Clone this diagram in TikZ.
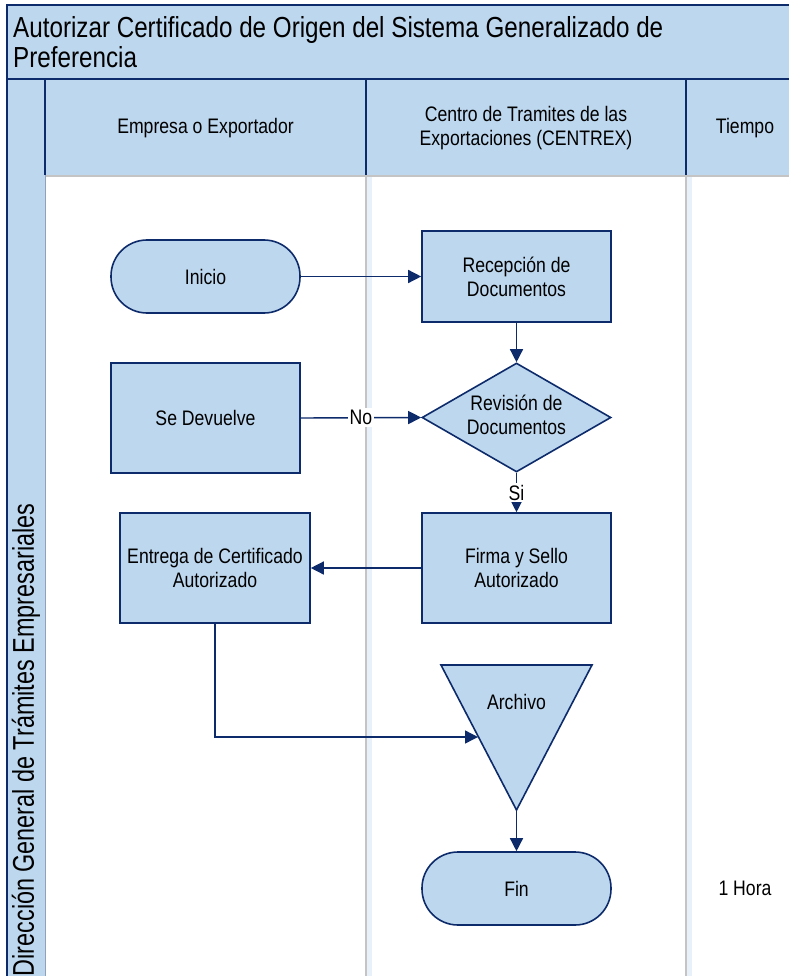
\documentclass[tikz,border=0pt]{standalone}
\usepackage{fontspec}
\setmainfont[FakeStretch=0.84]{Liberation Sans}
\newfontfamily\titlefont[FakeStretch=0.835]{Liberation Sans}
\newfontfamily\lanefont[FakeStretch=0.78]{Liberation Sans}
\usetikzlibrary{arrows.meta,shapes.geometric}
\definecolor{boxfill}{HTML}{BDD7EE}
\definecolor{navy}{HTML}{0D2B6A}
\definecolor{lanegray}{HTML}{C4C4C4}
\definecolor{laneshade}{HTML}{E8F0FA}

\begin{document}
\begin{tikzpicture}[x=1pt,y=-1pt,
  txt/.style={font=\fontsize{21}{24}\selectfont, align=center, text=black},
  procbox/.style={txt, draw=navy, line width=1.6pt, fill=boxfill, minimum width=189pt, inner sep=0pt},
  termbox/.style={procbox, rounded corners=36pt, minimum height=73pt},
  decision/.style={procbox, diamond, aspect=1.73, minimum height=109pt},
  flow/.style={draw=navy, line width=1.4pt, -{Triangle[length=13pt,width=13pt]}},
  flowlabel/.style={txt, fill=white, inner sep=2pt},
  frameline/.style={draw=navy, line width=1.6pt},
]
\useasboundingbox (0,0) rectangle (788,976);
\fill[white] (0,0) rectangle (788,976);

% title band
\fill[boxfill] (7,5) rectangle (800,79);
% header row
\fill[boxfill] (45,79) rectangle (800,175);
% vertical lane strip
\fill[boxfill] (7,79) rectangle (45,980);

% lane separators in the body
\fill[laneshade] (367,176) rectangle (372,980);
\fill[laneshade] (687,176) rectangle (692,980);
\draw[lanegray, line width=2pt] (366,175) -- (366,980);
\draw[lanegray, line width=2pt] (686,175) -- (686,980);
\draw[lanegray, line width=1.2pt] (45,176) -- (800,176);
\draw[navy!45, line width=1pt] (45,175) -- (45,980);

% frame lines
\draw[frameline] (800,5) -- (7,5) -- (7,980);
\draw[frameline] (7,79) -- (800,79);
\draw[frameline] (45,79) -- (45,175);
\draw[frameline] (366,79) -- (366,175);
\draw[frameline] (686,79) -- (686,175);

% titles
\node[anchor=west, align=left, inner sep=0pt, font=\titlefont\fontsize{29}{30}\selectfont] (title) at (13,42)
  {Autorizar Certificado de Origen del Sistema Generalizado de\\Preferencia};
\node[rotate=90, inner sep=0pt, font=\lanefont\fontsize{30}{32}\selectfont] (lane) at (26,740)
  {Dirección General de Trámites Empresariales};
\node[txt] (hEmp) at (205.5,128) {Empresa o Exportador};
\node[txt] (hCen) at (526,128) {Centro de Tramites de las\\Exportaciones (CENTREX)};
\node[txt] (hTie) at (745,128) {Tiempo};

% flow shapes
\node[termbox] (inicio) at (205.5,276.5) {Inicio};
\node[procbox, minimum height=91pt] (recep) at (516.5,276.5) {Recepción de\\Documentos};
\node[decision] (rev) at (516.5,417.5) {\makebox[0pt]{\begin{tabular}{@{}c@{}}Revisión de\\Documentos\end{tabular}}};
\node[procbox, minimum height=110pt] (devuelve) at (205.5,418) {Se Devuelve};
\node[procbox, minimum height=110pt] (firma) at (516.5,568) {Firma y Sello\\Autorizado};
\node[procbox, minimum width=190pt, minimum height=110pt] (entrega) at (215,568) {Entrega de Certificado\\Autorizado};
\node[termbox] (fin) at (516.5,888.5) {Fin};
\node[txt] (hora) at (745,888) {1 Hora};

% archive triangle
\coordinate (arcL) at (441,665);
\coordinate (arcR) at (592,665);
\coordinate (arcB) at (516.5,810);
\coordinate (arcIn) at (478,737);
\draw[navy, line width=1.6pt, fill=boxfill, line join=miter] (arcL) -- (arcR) -- (arcB) -- cycle;
\node[txt] (archivo) at (516.5,702) {Archivo};

% connectors
\draw[flow] (inicio.east) -- (recep.west);
\draw[flow] (recep.south) -- (rev.north);
\draw[flow] (devuelve.east) -- node[flowlabel] {No} (rev.west);
\draw[flow] (rev.south) -- node[flowlabel] {Si} (firma.north);
\draw[flow] (firma.west) -- (entrega.east);
\draw[flow] (entrega.south) |- (arcIn);
\draw[flow] (arcB) -- (fin.north);
\end{tikzpicture}
\end{document}
